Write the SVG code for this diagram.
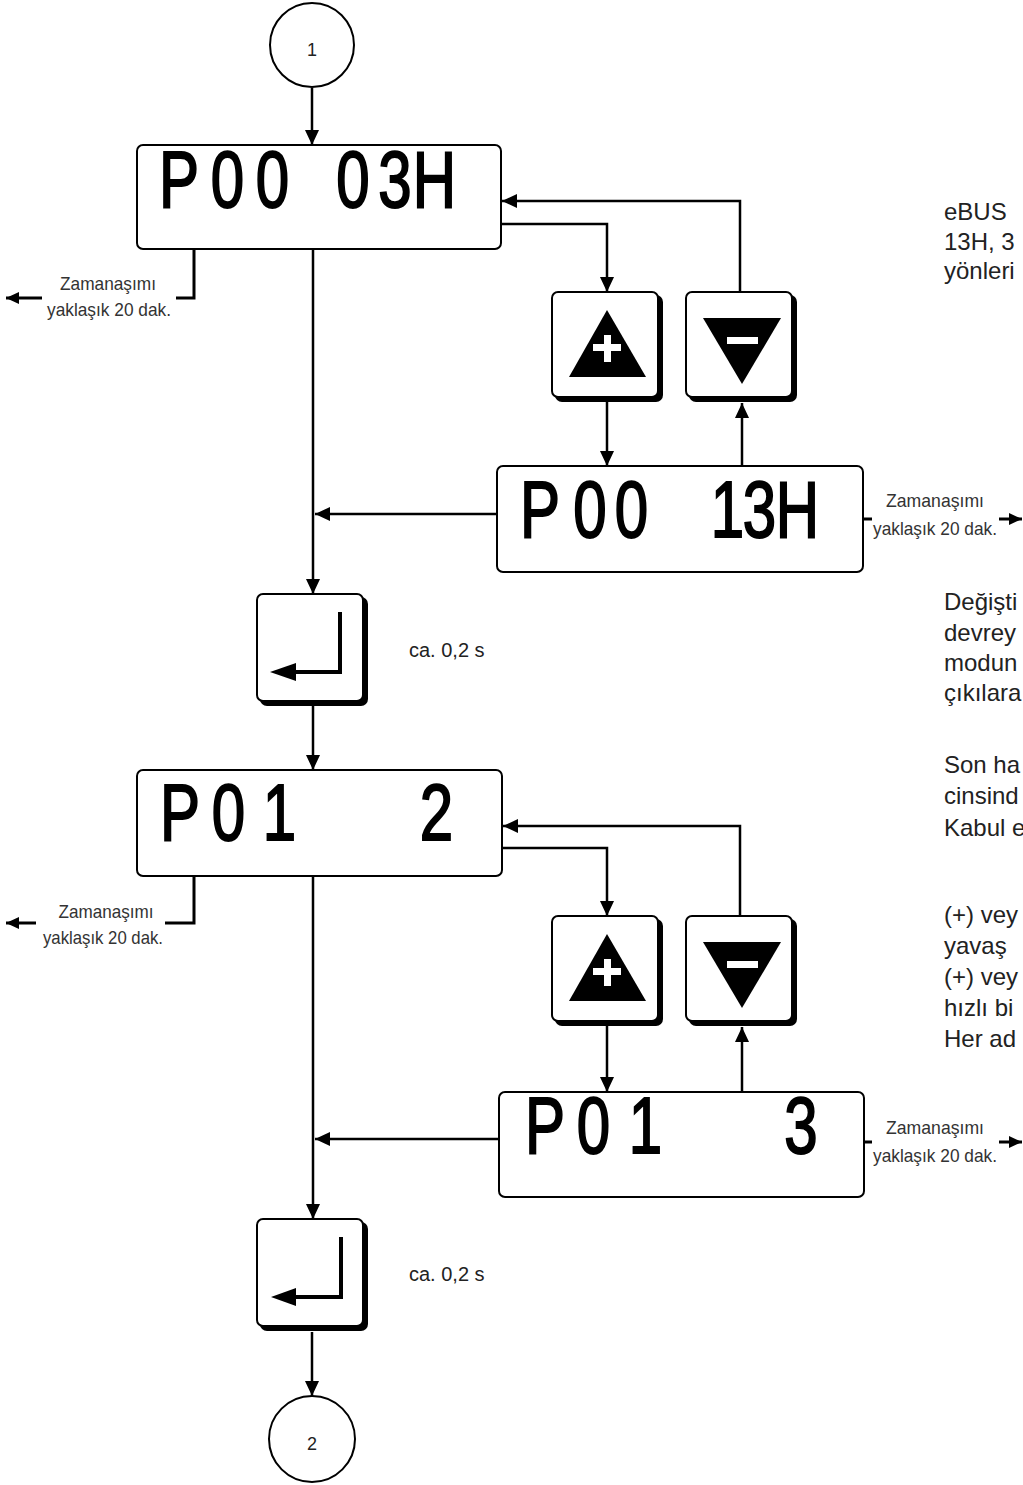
<svg xmlns="http://www.w3.org/2000/svg" width="1023" height="1485" viewBox="0 0 1023 1485">
<defs>
<style>
.ln{fill:none;stroke:#000;stroke-width:2.5}
.tl{fill:none;stroke:#000;stroke-width:3}
.box{fill:#fff;stroke:#000;stroke-width:2}
.shd{fill:#000}
.lcd{font-family:'Liberation Sans',Arial,sans-serif;font-size:80px;fill:#000;stroke:#000;stroke-width:2;text-anchor:middle}
.to{font-family:'Liberation Sans',Arial,sans-serif;font-size:19px;fill:#333;text-anchor:middle}
.rt{font-family:'Liberation Sans',Arial,sans-serif;font-size:24px;fill:#222}
.lbl{font-family:'Liberation Sans',Arial,sans-serif;font-size:18px;fill:#222}
.ca{font-family:'Liberation Sans',Arial,sans-serif;font-size:20px;fill:#222}
.sym{fill:none;stroke:#000;stroke-width:4}
</style>
<marker id="ah" markerWidth="15" markerHeight="14" refX="15" refY="7" orient="auto" markerUnits="userSpaceOnUse"><path d="M0,0 L15,7 L0,14 z" fill="#000"/></marker>
<marker id="sa" markerWidth="13" markerHeight="12" refX="13" refY="6" orient="auto" markerUnits="userSpaceOnUse"><path d="M0,0 L13,6 L0,12 z" fill="#000"/></marker>
</defs>

<g id="connectors">
<path class="ln" d="M312,88 V145" marker-end="url(#ah)"/>
<path class="ln" d="M313,249 V594" marker-end="url(#ah)"/>
<path class="ln" d="M501,224 H607 V292" marker-end="url(#ah)"/>
<path class="ln" d="M740,292 V201 H502" marker-end="url(#ah)"/>
<path class="ln" d="M607,402 V466" marker-end="url(#ah)"/>
<path class="ln" d="M742,466 V403" marker-end="url(#ah)"/>
<path class="ln" d="M497,514 H315" marker-end="url(#ah)"/>
<path class="ln" d="M313,706 V770" marker-end="url(#ah)"/>
<path class="ln" d="M313,876 V1219" marker-end="url(#ah)"/>
<path class="ln" d="M502,848 H607 V916" marker-end="url(#ah)"/>
<path class="ln" d="M740,916 V826 H503" marker-end="url(#ah)"/>
<path class="ln" d="M607,1026 V1092" marker-end="url(#ah)"/>
<path class="ln" d="M742,1092 V1027" marker-end="url(#ah)"/>
<path class="ln" d="M499,1139 H315" marker-end="url(#ah)"/>
<path class="ln" d="M312,1332 V1396" marker-end="url(#ah)"/>
<path class="tl" d="M194,249 V298 H176"/>
<path class="tl" d="M42,298 H6" marker-end="url(#sa)"/>
<path class="tl" d="M194,876 V923 H165"/>
<path class="tl" d="M36,923 H6" marker-end="url(#sa)"/>
<path class="tl" d="M863,519 H872"/>
<path class="tl" d="M999,519 H1022" marker-end="url(#sa)"/>
<path class="tl" d="M864,1142 H872"/>
<path class="tl" d="M999,1142 H1022" marker-end="url(#sa)"/>
</g>

<g id="circle1">
<circle cx="312" cy="45" r="42" fill="#fff" stroke="#000" stroke-width="2"/>
<text class="lbl" x="312" y="56" text-anchor="middle">1</text>
</g>

<g id="disp1">
<rect class="box" x="137" y="145" width="364" height="104" rx="6"/>
<text class="lcd" transform="scale(0.75,1)" x="238.67 303.33 363.33 417.33 470.67 526.67 579.33" y="207">P00 03H</text>
</g>

<g id="plus1">
<rect class="shd" x="555" y="295" width="108" height="107" rx="7"/>
<rect class="box" x="552" y="292" width="106" height="105" rx="6"/>
<polygon points="607,310 646,377 569,377" fill="#000"/>
<rect x="593" y="344" width="28" height="7" fill="#fff"/>
<rect x="604" y="335" width="7" height="27" fill="#fff"/>
</g>

<g id="minus1">
<rect class="shd" x="689" y="295" width="108" height="107" rx="7"/>
<rect class="box" x="686" y="292" width="106" height="105" rx="6"/>
<polygon points="703,318 781,318 742,384" fill="#000"/>
<rect x="727" y="337" width="31" height="7" fill="#fff"/>
</g>

<g id="disp2">
<rect class="box" x="497" y="466" width="366" height="106" rx="6"/>
<text class="lcd" transform="scale(0.75,1)" x="720 786.67 842 906.67 970 1012.67 1063.33" y="537">P00 13H</text>
</g>

<g id="enter1">
<rect class="shd" x="260" y="597" width="108" height="109" rx="7"/>
<rect class="box" x="257" y="594" width="106" height="107" rx="6"/>
<path class="sym" d="M340,612 V672 H292"/>
<polygon points="270,672 296,663 296,681" fill="#000"/>
</g>
<text class="ca" x="409" y="657">ca. 0,2 s</text>

<g id="disp3">
<rect class="box" x="137" y="770" width="365" height="106" rx="6"/>
<text class="lcd" transform="scale(0.75,1)" x="240 304.67 372.67 466.67 582" y="840">P01 2</text>
</g>

<g id="plus2">
<rect class="shd" x="555" y="919" width="108" height="107" rx="7"/>
<rect class="box" x="552" y="916" width="106" height="105" rx="6"/>
<polygon points="607,934 646,1001 569,1001" fill="#000"/>
<rect x="593" y="968" width="28" height="7" fill="#fff"/>
<rect x="604" y="959" width="7" height="27" fill="#fff"/>
</g>

<g id="minus2">
<rect class="shd" x="689" y="919" width="108" height="107" rx="7"/>
<rect class="box" x="686" y="916" width="106" height="105" rx="6"/>
<polygon points="703,942 781,942 742,1008" fill="#000"/>
<rect x="727" y="961" width="31" height="7" fill="#fff"/>
</g>

<g id="disp4">
<rect class="box" x="499" y="1092" width="365" height="105" rx="6"/>
<text class="lcd" transform="scale(0.75,1)" x="726.67 791.33 860.67 960 1068" y="1153">P01 3</text>
</g>

<g id="enter2">
<rect class="shd" x="260" y="1222" width="108" height="109" rx="7"/>
<rect class="box" x="257" y="1219" width="106" height="107" rx="6"/>
<path class="sym" d="M341,1237 V1297 H292"/>
<polygon points="271,1297 296,1288 296,1306" fill="#000"/>
</g>
<text class="ca" x="409" y="1281">ca. 0,2 s</text>

<g id="circle2">
<circle cx="312" cy="1439" r="43" fill="#fff" stroke="#000" stroke-width="2"/>
<text class="lbl" x="312" y="1450" text-anchor="middle">2</text>
</g>

<g id="timeout-labels">
<text class="to" x="108" y="290" textLength="96" lengthAdjust="spacingAndGlyphs">Zamanaşımı</text>
<text class="to" x="109" y="316" textLength="124" lengthAdjust="spacingAndGlyphs">yaklaşık 20 dak.</text>
<text class="to" x="106" y="918" textLength="95" lengthAdjust="spacingAndGlyphs">Zamanaşımı</text>
<text class="to" x="103" y="944" textLength="120" lengthAdjust="spacingAndGlyphs">yaklaşık 20 dak.</text>
<text class="to" x="935" y="507" textLength="98" lengthAdjust="spacingAndGlyphs">Zamanaşımı</text>
<text class="to" x="935" y="535" textLength="124" lengthAdjust="spacingAndGlyphs">yaklaşık 20 dak.</text>
<text class="to" x="935" y="1134" textLength="98" lengthAdjust="spacingAndGlyphs">Zamanaşımı</text>
<text class="to" x="935" y="1162" textLength="124" lengthAdjust="spacingAndGlyphs">yaklaşık 20 dak.</text>
</g>

<g id="side-text">
<text class="rt" x="944" y="220">eBUS</text>
<text class="rt" x="944" y="250">13H, 3</text>
<text class="rt" x="944" y="279">yönleri</text>
<text class="rt" x="944" y="610">Değişti</text>
<text class="rt" x="944" y="641">devrey</text>
<text class="rt" x="944" y="671">modun</text>
<text class="rt" x="944" y="701">çıkılara</text>
<text class="rt" x="944" y="773">Son ha</text>
<text class="rt" x="944" y="804">cinsind</text>
<text class="rt" x="944" y="836">Kabul e</text>
<text class="rt" x="944" y="923">(+) vey</text>
<text class="rt" x="944" y="954">yavaş</text>
<text class="rt" x="944" y="985">(+) vey</text>
<text class="rt" x="944" y="1016">hızlı bi</text>
<text class="rt" x="944" y="1047">Her ad</text>
</g>
</svg>
